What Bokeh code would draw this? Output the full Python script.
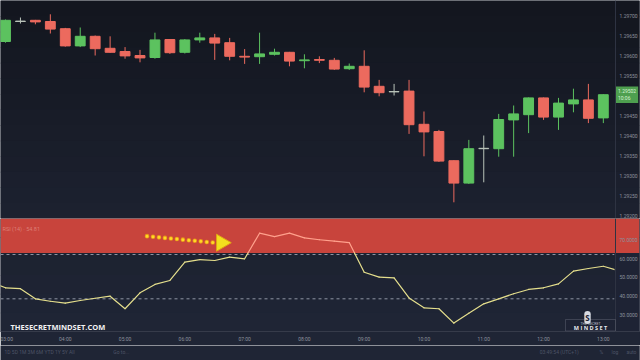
import numpy as np
from bokeh.plotting import figure
from bokeh.layouts import column
from bokeh.models import (Range1d, LinearAxis, FixedTicker, SingleIntervalTicker,
                          NumeralTickFormatter, BoxAnnotation, Span, Label)
from bokeh.embed import file_html
from bokeh.resources import INLINE
from bokeh.core.properties import value

# ---------------- data ----------------
time_ticks = [0, 4, 8, 12, 16, 20, 24, 28, 32, 36, 40]
time_labels = ["03:00", "04:00", "05:00", "06:00", "07:00", "08:00",
               "09:00", "10:00", "11:00", "12:00", "13:00"]

opens = [1.29635, 1.29685, 1.29688, 1.29685, 1.29667, 1.29624, 1.29648, 1.29618,
         1.29610, 1.29600, 1.29595, 1.29640, 1.29608, 1.29639, 1.29644, 1.29632,
         1.29598, 1.29597, 1.29603, 1.29608, 1.29587, 1.29590, 1.29588, 1.29567,
         1.29573, 1.29523, 1.29509, 1.29511, 1.29428, 1.29410, 1.29337, 1.29281,
         1.29367, 1.29367, 1.29439, 1.29452, 1.29494, 1.29446, 1.29479, 1.29489,
         1.29444]
highs = [1.29690, 1.29695, 1.29689, 1.29703, 1.29669, 1.29670, 1.29650, 1.29648,
         1.29621, 1.29614, 1.29657, 1.29641, 1.29641, 1.29657, 1.29654, 1.29644,
         1.29616, 1.29657, 1.29617, 1.29609, 1.29603, 1.29598, 1.29594, 1.29580,
         1.29613, 1.29539, 1.29529, 1.29539, 1.29460, 1.29414, 1.29338, 1.29389,
         1.29400, 1.29454, 1.29475, 1.29495, 1.29495, 1.29494, 1.29517, 1.29529,
         1.29503]
lows = [1.29632, 1.29680, 1.29678, 1.29655, 1.29622, 1.29621, 1.29600, 1.29607,
        1.29592, 1.29583, 1.29592, 1.29604, 1.29605, 1.29632, 1.29589, 1.29588,
        1.29579, 1.29579, 1.29600, 1.29573, 1.29568, 1.29581, 1.29564, 1.29564,
        1.29508, 1.29498, 1.29500, 1.29404, 1.29348, 1.29334, 1.29233, 1.29279,
        1.29283, 1.29347, 1.29347, 1.29406, 1.29439, 1.29414, 1.29458, 1.29431,
        1.29431]
closes = [1.29688, 1.29686, 1.29684, 1.29666, 1.29624, 1.29648, 1.29617, 1.29608,
          1.29599, 1.29594, 1.29639, 1.29607, 1.29639, 1.29644, 1.29631, 1.29598,
          1.29596, 1.29604, 1.29608, 1.29586, 1.29589, 1.29588, 1.29566, 1.29573,
          1.29521, 1.29507, 1.29510, 1.29427, 1.29409, 1.29336, 1.29281, 1.29367,
          1.29368, 1.29440, 1.29454, 1.29494, 1.29446, 1.29481, 1.29489, 1.29443,
          1.29502]

rsi_x = list(range(-1, 42))
rsi = [47.5, 44.5, 44.0, 38.6, 37.3, 36.3, 37.7, 38.9, 40.0, 33.3, 41.8,
       46.3, 48.4, 58.2, 59.6, 59.1, 60.9, 60.0, 73.7, 71.9, 73.7, 71.2,
       70.2, 69.4, 68.7, 52.8, 50.2, 49.8, 39.1, 33.8, 33.3, 25.6, 30.9,
       35.9, 38.6, 41.3, 43.6, 44.5, 46.6, 53.4, 54.8, 56.0, 53.7]

band_lo, band_hi = 63.1, 81.55
level_hi, level_lo = 62.3, 38.6
last_price_text = "1.29502"
countdown_text = "10:06"
rsi_title = "RSI (14) · 54.81"

arrow_x = [9.47, 14.0]
arrow_y = [72.1, 68.6]
arrow_head = (14.45, 68.6)

toolbar_texts = ["1D   5D   1M   3M   6M   YTD   1Y   5Y   All", "Go to...",
                 "03:49:54 (UTC+1)", "%", "log", "auto"]

# ---------------- layout / style ----------------
X_START, X_END = -0.334, 42.42      # full canvas width in candle-index units
AXIS_EDGE = 40.75                   # where the price scale strip begins
BG_P1 = ((19, 22, 31), (28, 33, 47))
BG_P2 = ((28, 33, 47), (31, 37, 53))
BG_BOT = "#1f2535"
UP = "#5cc25f"
DOWN = "#ec6a5e"
FLAT = "#b9c3b9"
AX_TXT = "#8d919c"
SEP = "#2e3342"
FONT = "Roboto"

x_range = Range1d(X_START, X_END)


def hexcol(rgb):
    return "#%02x%02x%02x" % tuple(int(round(v)) for v in rgb)


def add_gradient(p, height, cols, steps=14):
    c0, c1 = np.array(cols[0], float), np.array(cols[1], float)
    h = height / steps
    for k in range(steps):
        col = c0 + (c1 - c0) * (k / (steps - 1))
        p.add_layout(BoxAnnotation(top=height - k * h, bottom=height - (k + 1) * h - 0.6,
                                   top_units="screen", bottom_units="screen",
                                   fill_color=hexcol(col), fill_alpha=1.0,
                                   line_color=None, level="underlay"))


def style_yaxis(ax):
    ax.major_label_text_font_size = "5px"
    ax.major_label_text_color = AX_TXT
    ax.major_label_text_font = FONT
    ax.major_tick_line_color = None
    ax.minor_tick_line_color = None
    ax.major_tick_out = 0
    ax.major_tick_in = 0
    ax.minor_tick_out = 0
    ax.minor_tick_in = 0
    ax.axis_line_color = None
    ax.major_label_standoff = -20


# ---------------- price panel ----------------
p1 = figure(width=640, height=218, x_range=x_range,
            y_range=Range1d(1.291925, 1.297375),
            toolbar_location=None, output_backend="svg",
            y_axis_location=None, x_axis_location=None,
            min_border_left=0, min_border_right=0, min_border_top=0, min_border_bottom=0)
p1.background_fill_color = hexcol(BG_P1[1])
p1.border_fill_color = hexcol(BG_P1[1])
p1.outline_line_color = None
p1.grid.visible = False
add_gradient(p1, 218, BG_P1)

ax1 = LinearAxis(ticker=SingleIntervalTicker(interval=0.0005, num_minor_ticks=0),
                 formatter=NumeralTickFormatter(format="0.00000"))
style_yaxis(ax1)
p1.add_layout(ax1, "right")
p1.add_layout(Span(location=615, location_units="screen", dimension="height",
                   line_color=SEP, line_width=1))

idx = list(range(len(opens)))
colors = []
for o, c in zip(opens, closes):
    if abs(c - o) <= 0.000015:
        colors.append(FLAT)
    elif c > o:
        colors.append(UP)
    else:
        colors.append(DOWN)
tops = [max(o, c) for o, c in zip(opens, closes)]
bots = [min(o, c) for o, c in zip(opens, closes)]

p1.segment(x0=idx, y0=lows, x1=idx, y1=highs, line_color=colors, line_width=1)
p1.vbar(x=idx, top=tops, bottom=bots, width=0.66, fill_color=colors,
        line_color=colors, line_width=1)

p1.add_layout(Label(x=615.5, x_units="screen", y=closes[-1],
                    text=last_price_text + "\n" + countdown_text,
                    text_font=FONT, text_font_size="5px", text_color="#d8f3d4",
                    text_baseline="middle", text_align="left", text_line_height=1.1,
                    background_fill_color="#4e9f4f", padding=2))

# ---------------- RSI panel ----------------
p2 = figure(width=640, height=127, x_range=x_range,
            y_range=Range1d(21.12, 81.55),
            toolbar_location=None, output_backend="svg",
            y_axis_location=None,
            min_border_left=0, min_border_right=0, min_border_top=0, min_border_bottom=14)
p2.background_fill_color = hexcol(BG_P2[1])
p2.border_fill_color = hexcol(BG_P2[1])
p2.outline_line_color = None
p2.grid.visible = False
add_gradient(p2, 113, BG_P2, steps=6)

xa = p2.xaxis[0]
xa.ticker = FixedTicker(ticks=time_ticks)
xa.major_label_overrides = {t: l for t, l in zip(time_ticks, time_labels)}
xa.major_label_text_font_size = "5px"
xa.major_label_text_color = AX_TXT
xa.major_label_text_font = FONT
xa.major_tick_line_color = None
xa.minor_tick_line_color = None
xa.major_tick_out = 0
xa.minor_tick_out = 0
xa.axis_line_color = "#363b4a"
xa.major_label_standoff = 4

ax2 = LinearAxis(ticker=FixedTicker(ticks=[30, 40, 50, 60, 70]),
                 formatter=NumeralTickFormatter(format="0.0000"))
style_yaxis(ax2)
p2.add_layout(ax2, "right")

p2.add_layout(BoxAnnotation(bottom=band_lo, top=band_hi,
                            fill_color="#c8443c", fill_alpha=1.0, line_color=None,
                            level="underlay"))

# dashed levels, up to the scale strip
p2.segment(x0=[X_START, X_START], y0=[level_hi, level_lo], x1=[AXIS_EDGE, AXIS_EDGE],
           y1=[level_hi, level_lo], line_color="#8f95a3", line_dash="3 3", line_width=1)

# RSI line, split where it enters the band
HOT, COOL = "#ffa08c", "#e4de8c"
x0s, y0s, x1s, y1s, cs = [], [], [], [], []
for k in range(len(rsi_x) - 1):
    xa_, ya_, xb_, yb_ = rsi_x[k], rsi[k], rsi_x[k + 1], rsi[k + 1]
    a_up, b_up = ya_ > band_lo, yb_ > band_lo
    if a_up == b_up:
        x0s.append(xa_); y0s.append(ya_); x1s.append(xb_); y1s.append(yb_)
        cs.append(HOT if a_up else COOL)
    else:
        t = (band_lo - ya_) / (yb_ - ya_)
        xm = xa_ + t * (xb_ - xa_)
        x0s += [xa_, xm]; y0s += [ya_, band_lo]; x1s += [xm, xb_]; y1s += [band_lo, yb_]
        cs += [HOT if a_up else COOL, HOT if b_up else COOL]
p2.segment(x0=x0s, y0=y0s, x1=x1s, y1=y1s, line_color=cs, line_width=1.2, line_cap="round")

# the price-scale strip hides the line beyond the last bar
p2.quad(left=[AXIS_EDGE], right=[X_END], bottom=[21.12], top=[band_lo],
        fill_color="#1e2334", line_color=None)
p2.add_layout(Span(location=615, location_units="screen", dimension="height",
                   line_color=SEP, line_width=1))

# dotted yellow arrow
p2.line(arrow_x, arrow_y, line_color="#e8951a", line_width=4.6, line_dash="0 6", line_cap="round")
p2.line(arrow_x, arrow_y, line_color="#ffd927", line_width=3.0, line_dash="0 6", line_cap="round")
p2.scatter([arrow_head[0]], [arrow_head[1]], marker="triangle", size=17, angle=-np.pi / 2,
           fill_color="#f3df1e", line_color="#e0a514", line_width=1)

# texts
p2.add_layout(Label(x=2, y=103, x_units="screen", y_units="screen", text=rsi_title,
                    text_font=FONT, text_font_size="5.5px", text_color="#e3948a",
                    text_alpha=0.75, text_baseline="middle"))
p2.add_layout(Label(x=10, y=5, x_units="screen", y_units="screen", text="THESECRETMINDSET.COM",
                    text_font="Open Sans", text_font_style="bold", text_font_size="7.5px",
                    text_color="#f2f2f2", text_baseline="middle"))

# logo
p2.add_layout(BoxAnnotation(left=565, right=615, bottom=0.5, top=12,
                            left_units="screen", right_units="screen",
                            bottom_units="screen", top_units="screen",
                            fill_color="#1e2334", fill_alpha=0.6, line_color="#8c909c", line_width=1))
p2.add_layout(Label(x=590, y=8, x_units="screen", y_units="screen", text="THE SECRET",
                    text_font=FONT, text_font_size="3.5px", text_color="#b8bcc6",
                    text_align="center", text_baseline="middle"))
p2.add_layout(Label(x=590, y=3.5, x_units="screen", y_units="screen", text="M I N D S E T",
                    text_font="Open Sans", text_font_style="bold", text_font_size="5.5px",
                    text_color="#e8e8ee", text_align="center", text_baseline="middle"))
p2.add_layout(Label(x=587, y=14, x_units="screen", y_units="screen", text="S",
                    text_font="Open Sans", text_font_style="bold", text_font_size="8px",
                    text_color="#1d2231", text_align="center", text_baseline="middle",
                    background_fill_color="#d8dbe2", padding=1, border_radius=5))

# ---------------- bottom toolbar row ----------------
p3 = figure(width=640, height=15, x_range=Range1d(0, 640), y_range=Range1d(0, 15),
            toolbar_location=None, output_backend="svg",
            x_axis_location=None, y_axis_location=None, min_border=0)
p3.background_fill_color = BG_BOT
p3.border_fill_color = BG_BOT
p3.outline_line_color = None
p3.grid.visible = False
p3.text(x=[4, 113, 540, 600, 612, 627], y=[9] * 6, text=toolbar_texts,
        text_font=value(FONT), text_font_size="5px", text_color="#4d5366",
        text_baseline="middle")

layout = column(p1, p2, p3, spacing=0)
open("out.html", "w").write(file_html(layout, INLINE))
